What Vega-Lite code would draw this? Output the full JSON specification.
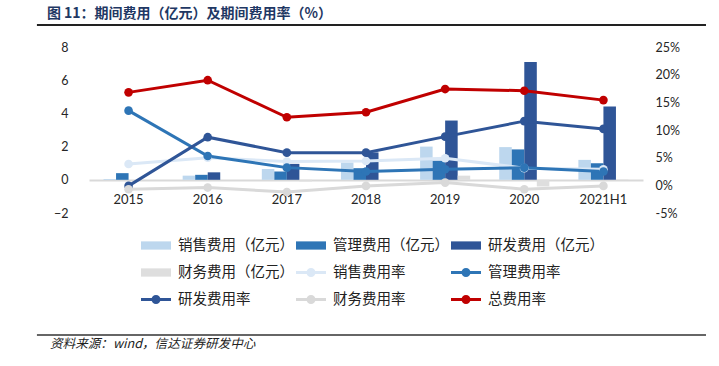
{
  "$schema": "https://vega.github.io/schema/vega-lite/v6.json",
  "width": 554,
  "height": 166,
  "autosize": {"type": "none"},
  "padding": {"left": 89, "top": 47, "right": 76, "bottom": 153},
  "background": "white",
  "config": {
    "font": "Lato",
    "view": {"stroke": null},
    "axis": {"labelFont": "Lato", "labelColor": "#262626", "grid": false, "ticks": false, "domain": false, "title": null}
  },
  "data": {
    "values": [
      {"year": "2015", "name": "销售费用（亿元）", "value": 0.05},
      {"year": "2016", "name": "销售费用（亿元）", "value": 0.25},
      {"year": "2017", "name": "销售费用（亿元）", "value": 0.65},
      {"year": "2018", "name": "销售费用（亿元）", "value": 1.04},
      {"year": "2019", "name": "销售费用（亿元）", "value": 2.0},
      {"year": "2020", "name": "销售费用（亿元）", "value": 1.97},
      {"year": "2021H1", "name": "销售费用（亿元）", "value": 1.2},
      {"year": "2015", "name": "管理费用（亿元）", "value": 0.4},
      {"year": "2016", "name": "管理费用（亿元）", "value": 0.3},
      {"year": "2017", "name": "管理费用（亿元）", "value": 0.5},
      {"year": "2018", "name": "管理费用（亿元）", "value": 0.7},
      {"year": "2019", "name": "管理费用（亿元）", "value": 1.15},
      {"year": "2020", "name": "管理费用（亿元）", "value": 1.83},
      {"year": "2021H1", "name": "管理费用（亿元）", "value": 1.0},
      {"year": "2015", "name": "研发费用（亿元）", "value": 0.0},
      {"year": "2016", "name": "研发费用（亿元）", "value": 0.45},
      {"year": "2017", "name": "研发费用（亿元）", "value": 0.96},
      {"year": "2018", "name": "研发费用（亿元）", "value": 1.65},
      {"year": "2019", "name": "研发费用（亿元）", "value": 3.57},
      {"year": "2020", "name": "研发费用（亿元）", "value": 7.09},
      {"year": "2021H1", "name": "研发费用（亿元）", "value": 4.42},
      {"year": "2015", "name": "财务费用（亿元）", "value": 0.0},
      {"year": "2016", "name": "财务费用（亿元）", "value": 0.0},
      {"year": "2017", "name": "财务费用（亿元）", "value": -0.1},
      {"year": "2018", "name": "财务费用（亿元）", "value": 0.0},
      {"year": "2019", "name": "财务费用（亿元）", "value": 0.25},
      {"year": "2020", "name": "财务费用（亿元）", "value": -0.4},
      {"year": "2021H1", "name": "财务费用（亿元）", "value": 0.02},
      {"year": "2015", "name": "销售费用率", "value": 3.85},
      {"year": "2016", "name": "销售费用率", "value": 5.0},
      {"year": "2017", "name": "销售费用率", "value": 4.3},
      {"year": "2018", "name": "销售费用率", "value": 4.4},
      {"year": "2019", "name": "销售费用率", "value": 4.9},
      {"year": "2020", "name": "销售费用率", "value": 3.1},
      {"year": "2021H1", "name": "销售费用率", "value": 2.9},
      {"year": "2015", "name": "管理费用率", "value": 13.5},
      {"year": "2016", "name": "管理费用率", "value": 5.3},
      {"year": "2017", "name": "管理费用率", "value": 3.2},
      {"year": "2018", "name": "管理费用率", "value": 2.5},
      {"year": "2019", "name": "管理费用率", "value": 2.9},
      {"year": "2020", "name": "管理费用率", "value": 3.2},
      {"year": "2021H1", "name": "管理费用率", "value": 2.5},
      {"year": "2015", "name": "研发费用率", "value": -0.1},
      {"year": "2016", "name": "研发费用率", "value": 8.7},
      {"year": "2017", "name": "研发费用率", "value": 5.9},
      {"year": "2018", "name": "研发费用率", "value": 5.9},
      {"year": "2019", "name": "研发费用率", "value": 8.8},
      {"year": "2020", "name": "研发费用率", "value": 11.6},
      {"year": "2021H1", "name": "研发费用率", "value": 10.2},
      {"year": "2015", "name": "财务费用率", "value": -0.7},
      {"year": "2016", "name": "财务费用率", "value": -0.4},
      {"year": "2017", "name": "财务费用率", "value": -1.2},
      {"year": "2018", "name": "财务费用率", "value": -0.1},
      {"year": "2019", "name": "财务费用率", "value": 0.5},
      {"year": "2020", "name": "财务费用率", "value": -0.7},
      {"year": "2021H1", "name": "财务费用率", "value": -0.1},
      {"year": "2015", "name": "总费用率", "value": 16.8},
      {"year": "2016", "name": "总费用率", "value": 19.0},
      {"year": "2017", "name": "总费用率", "value": 12.3},
      {"year": "2018", "name": "总费用率", "value": 13.2},
      {"year": "2019", "name": "总费用率", "value": 17.4},
      {"year": "2020", "name": "总费用率", "value": 17.1},
      {"year": "2021H1", "name": "总费用率", "value": 15.4}
    ]
  },
  "layer": [
    {
      "data": {"values": [{}]},
      "layer": [
        {
          "mark": {"type": "rule", "color": "#222222", "strokeWidth": 2, "clip": false},
          "encoding": {
            "x": {"datum": -0.094, "type": "quantitative", "scale": {"domain": [0, 1]}, "axis": null},
            "x2": {"datum": 1.1137},
            "y": {"datum": 1.1325, "type": "quantitative", "scale": {"domain": [0, 1]}, "axis": null}
          }
        },
        {
          "mark": {"type": "rule", "color": "#333333", "strokeWidth": 1.5, "clip": false},
          "encoding": {
            "x": {"datum": -0.094, "type": "quantitative"},
            "x2": {"datum": 1.1137},
            "y": {"datum": -0.735, "type": "quantitative"}
          }
        },
        {
          "mark": {"type": "text", "text": "图 11：期间费用（亿元）及期间费用率（%）", "align": "left", "baseline": "middle", "font": "Noto Sans CJK SC", "fontWeight": "bold", "fontSize": 14, "color": "#1f3864", "clip": false},
          "encoding": {
            "x": {"datum": -0.076, "type": "quantitative"},
            "y": {"datum": 1.199, "type": "quantitative"}
          }
        },
        {
          "mark": {"type": "text", "text": "资料来源：wind，信达证券研发中心", "align": "left", "baseline": "middle", "font": "Noto Sans CJK SC", "fontStyle": "italic", "fontSize": 12.6, "color": "#222222", "clip": false},
          "encoding": {
            "x": {"datum": -0.0704, "type": "quantitative"},
            "y": {"datum": -0.789, "type": "quantitative"}
          }
        }
      ]
    },
    {
      "layer": [
        {
          "transform": [{"filter": "indexof(datum.name, '亿元') >= 0"}],
          "mark": {"type": "bar"},
          "encoding": {
            "x": {
              "field": "year", "type": "nominal", "sort": null,
              "scale": {"paddingInner": 0.367, "paddingOuter": 0.1835},
              "axis": {"orient": "bottom", "offset": -33, "domain": true, "domainColor": "#d9d9d9", "domainWidth": 2, "labelPadding": 13, "labelFontSize": 13, "labelAngle": 0}
            },
            "xOffset": {
              "field": "name", "type": "nominal",
              "sort": ["销售费用（亿元）", "管理费用（亿元）", "研发费用（亿元）", "财务费用（亿元）"],
              "scale": {"paddingInner": 0, "paddingOuter": 0}
            },
            "y": {
              "field": "value", "type": "quantitative",
              "scale": {"domain": [-2, 8], "nice": false},
              "axis": {"orient": "left", "values": [-2, 0, 2, 4, 6, 8], "labelPadding": 21, "labelFontSize": 12.5}
            },
            "color": {
              "field": "name", "type": "nominal",
              "scale": {
                "domain": ["销售费用（亿元）", "管理费用（亿元）", "研发费用（亿元）", "财务费用（亿元）", "销售费用率", "管理费用率", "研发费用率", "财务费用率", "总费用率"],
                "range": ["#bdd7ee", "#2e75b6", "#2f5597", "#dedede", "#dbe8f6", "#2e75b6", "#2f5597", "#d9d9d9", "#c00000"]
              },
              "legend": {
                "orient": "none",
                "legendX": 52,
                "legendY": 191,
                "direction": "horizontal",
                "columns": 3,
                "title": null,
                "labelFont": "Noto Sans CJK SC",
                "labelFontSize": 14.5,
                "labelColor": "#222222",
                "labelLimit": 300,
                "symbolSize": 225,
                "labelOffset": 22,
                "rowPadding": 12,
                "columnPadding": 2,
                "encode": {
                  "symbols": {
                    "update": {
                      "shape": {"signal": "indexof(datum.value, '率') >= 0 ? 'M-1,-0.2 L3,-0.2 L3,0.2 L-1,0.2 Z M1.6,0 A0.6,0.6 0 1,1 0.4,0 A0.6,0.6 0 1,1 1.6,0 Z' : 'M-1,-0.55 L3,-0.55 L3,0.55 L-1,0.55 Z'"},
                      "fill": {"scale": "color", "field": "value"},
                      "stroke": {"value": "transparent"},
                      "strokeWidth": {"value": 0},
                      "opacity": {"value": 1}
                    }
                  }
                }
              }
            }
          }
        },
        {
          "transform": [{"filter": "indexof(datum.name, '率') >= 0"}],
          "mark": {"type": "line", "strokeWidth": 3, "point": {"filled": true, "size": 75}},
          "encoding": {
            "x": {"field": "year", "type": "nominal", "sort": null},
            "y": {
              "field": "value", "type": "quantitative",
              "scale": {"domain": [-5, 25], "nice": false},
              "axis": {"orient": "right", "values": [-5, 0, 5, 10, 15, 20, 25], "labelExpr": "datum.value + '%'", "labelPadding": 12, "labelFontSize": 12.5}
            },
            "color": {"field": "name", "type": "nominal"}
          }
        }
      ],
      "resolve": {"scale": {"y": "independent"}}
    }
  ],
  "resolve": {"scale": {"x": "independent", "y": "independent"}}
}
